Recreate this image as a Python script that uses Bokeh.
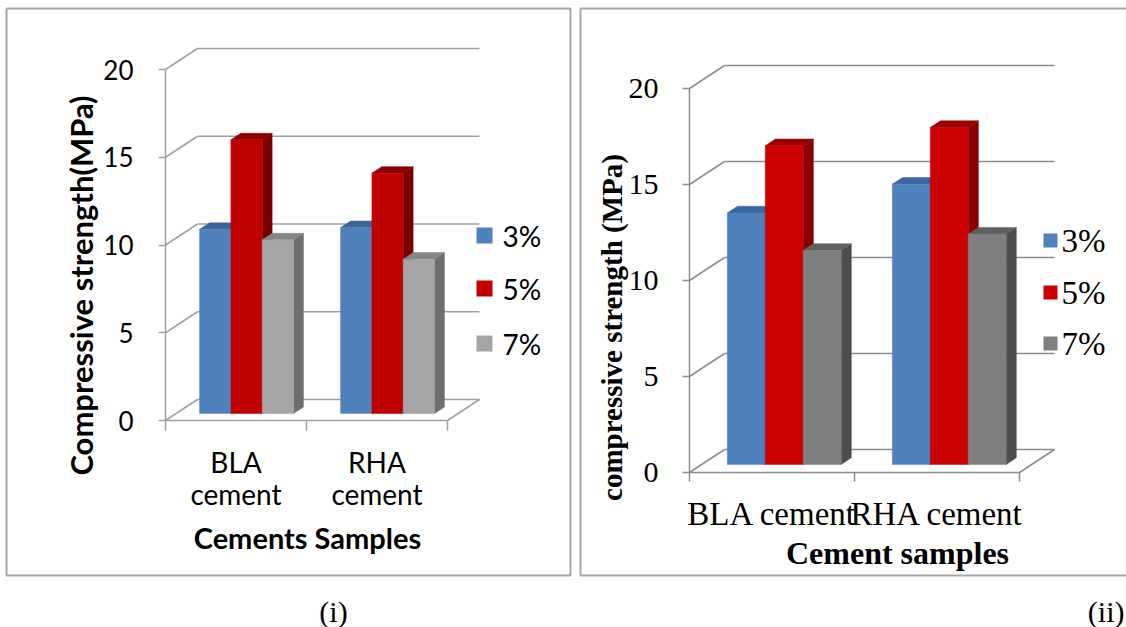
import math
from bokeh.plotting import figure
from bokeh.layouts import row
from bokeh.models import Range1d, FixedTicker
from bokeh.core.properties import value
from bokeh.embed import file_html
from bokeh.resources import INLINE

# ---------------- data ----------------
categories = ["BLA cement", "RHA cement"]
series_names = ["3%", "5%", "7%"]
y_ticks = [0, 5, 10, 15, 20]

# panel (i): compressive strength in MPa per cement sample
strength_i_3 = [10.5, 10.6]
strength_i_5 = [15.6, 13.7]
strength_i_7 = [9.9, 8.8]
cat_labels_i = ["BLA\ncement", "RHA\ncement"]

# panel (ii)
strength_ii_3 = [13.1, 14.6]
strength_ii_5 = [16.6, 17.55]
strength_ii_7 = [11.15, 12.0]
cat_labels_ii = ["BLA cement", "RHA cement"]

H = 627


def make_panel(values, cat_labels, g, st):
    """Excel-style 3-D clustered column chart drawn on a flat Bokeh canvas.

    g  : geometry in figure pixels (front origin, px per category / unit, depth offset)
    st : colours and fonts
    """
    W = g["width"]
    X0, Y0, CW, VU = g["X0"], g["Y0"], g["CW"], g["VU"]
    ddx = g["DX"] / CW          # depth offset in category units
    ddy = g["DY"] / VU          # depth offset in value units

    def dx(px):
        return (px - X0) / CW

    def dy(py):
        return (Y0 - py) / VU

    p = figure(width=W, height=H,
               x_range=Range1d(dx(0), dx(W)), y_range=Range1d(dy(H), dy(0)),
               output_backend="svg", toolbar_location=None,
               min_border=0, min_border_left=0, min_border_right=0,
               min_border_top=0, min_border_bottom=0)
    p.grid.visible = False
    p.outline_line_color = None
    p.background_fill_color = "white"
    p.border_fill_color = "white"

    n = len(cat_labels)
    gc = st["grid"]
    lw = 1.5
    top = y_ticks[-1]

    # panel border
    bl, bt, br, bb = g["border"]
    p.line(x=[dx(bl), dx(br), dx(br), dx(bl), dx(bl)],
           y=[dy(bt), dy(bt), dy(bb), dy(bb), dy(bt)],
           line_color="#a6a6a6", line_width=2)

    # walls: diagonals from the front axis, back gridlines, floor
    p.segment(x0=[0] * len(y_ticks), y0=y_ticks,
              x1=[ddx] * len(y_ticks), y1=[t + ddy for t in y_ticks],
              line_color=gc, line_width=lw)
    p.segment(x0=[ddx] * len(y_ticks), y0=[t + ddy for t in y_ticks],
              x1=[n + ddx] * len(y_ticks), y1=[t + ddy for t in y_ticks],
              line_color=gc, line_width=lw)
    p.segment(x0=[0, 0, n], y0=[0, 0, 0], x1=[0, n, n + ddx], y1=[top, 0, ddy],
              line_color=gc, line_width=lw)

    # bars: right side, top, then front face, left to right
    d1, d2 = g["d1"], g["d2"]
    bw, off = g["bw"], g["off"]
    for c in range(n):
        for s, vals in enumerate(values):
            v = vals[c]
            x0 = c + off + s * bw
            x1 = x0 + bw
            side = ([x1 + d1 * ddx, x1 + d2 * ddx, x1 + d2 * ddx, x1 + d1 * ddx],
                    [d1 * ddy, d2 * ddy, v + d2 * ddy, v + d1 * ddy])
            topf = ([x0 + d1 * ddx, x1 + d1 * ddx, x1 + d2 * ddx, x0 + d2 * ddx],
                    [v + d1 * ddy, v + d1 * ddy, v + d2 * ddy, v + d2 * ddy])
            p.patches(xs=[side[0], topf[0]], ys=[side[1], topf[1]],
                      fill_color=[st["side"][s], st["top"][s]],
                      line_color=[st["side"][s], st["top"][s]], line_width=0.5)
            p.quad(left=[x0 + d1 * ddx], right=[x1 + d1 * ddx],
                   bottom=[d1 * ddy], top=[v + d1 * ddy],
                   fill_color=st["front"][s], line_color=st["front"][s], line_width=0.5)

    # value axis, pinned to the front corner of the floor
    ya = p.yaxis[0]
    ya.fixed_location = 0
    ya.ticker = FixedTicker(ticks=y_ticks, minor_ticks=[])
    ya.axis_line_color = None
    ya.major_tick_line_color = gc
    ya.major_tick_line_width = lw
    ya.major_tick_out = g["ytick_out"]
    ya.major_tick_in = 0
    ya.minor_tick_line_color = None
    ya.major_label_standoff = g["ylab_standoff"]
    ya.major_label_text_font = st["font"]
    ya.major_label_text_font_size = st["tick_size"]
    ya.major_label_text_color = "black"

    # category axis along the front edge of the floor
    xa = p.xaxis[0]
    xa.fixed_location = 0
    xa.ticker = FixedTicker(ticks=[c + 0.5 for c in range(n)],
                            minor_ticks=list(range(n + 1)))
    xa.major_label_overrides = {c + 0.5: lab for c, lab in enumerate(cat_labels)}
    xa.axis_line_color = None
    xa.major_tick_line_color = None
    xa.minor_tick_line_color = gc
    xa.minor_tick_line_width = lw
    xa.minor_tick_out = g["xtick_out"]
    xa.minor_tick_in = 0
    xa.major_label_standoff = g["xlab_standoff"]
    xa.major_label_text_font = st["font"]
    xa.major_label_text_font_size = st["cat_size"]
    xa.major_label_text_line_height = st["cat_line_height"]
    xa.major_label_text_color = "black"

    # legend
    lx, ltx, lys = g["legend"]
    p.rect(x=[dx(lx)] * 3, y=[dy(yy) for yy in lys], width=g["sq"], height=g["sq"],
           width_units="screen", height_units="screen",
           fill_color=st["front"], line_color=None)
    p.text(x=[dx(ltx)] * 3, y=[dy(yy) for yy in lys], text=series_names,
           text_font=value(st["font"]), text_font_size=value(st["legend_size"]),
           text_baseline="middle", text_align="left", text_color="black")

    # axis titles
    yx, yy, ytxt = g["ytitle"]
    p.text(x=[dx(yx)], y=[dy(yy)], text=[ytxt], angle=math.pi / 2,
           text_align="center", text_baseline="middle",
           text_font=value(st["font"]), text_font_style=value("bold"),
           text_font_size=value(st["ytitle_size"]), text_color="black")
    xx, xy, xtxt = g["xtitle"]
    p.text(x=[dx(xx)], y=[dy(xy)], text=[xtxt],
           text_align="center", text_baseline="middle",
           text_font=value(st["font"]), text_font_style=value("bold"),
           text_font_size=value(st["xtitle_size"]), text_color="black")

    # caption under the panel
    cx, cy, ctxt, calign = g["caption"]
    p.text(x=[dx(cx)], y=[dy(cy)], text=[ctxt],
           text_align=calign, text_baseline="middle",
           text_font=value("Liberation Serif"), text_font_size=value("30px"),
           text_color="black")
    return p


geo_i = dict(width=574, X0=165, Y0=420, CW=141, VU=17.55, DX=32, DY=21,
             d1=0.33, d2=0.64, bw=0.222, off=0.167,
             ytick_out=7, ylab_standoff=25, xtick_out=10, xlab_standoff=14,
             legend=(484, 502, [235, 288, 343]), sq=16,
             ytitle=(80, 285, "Compressive strength(MPa)"),
             xtitle=(307, 537, "Cements Samples"),
             caption=(333, 611, "(i)", "center"),
             border=(6, 8, 570, 575))
style_i = dict(front=["#4f81bd", "#c00000", "#a5a5a5"],
               top=["#3c6596", "#8a0000", "#858585"],
               side=["#385d8a", "#7a0000", "#6e6e6e"],
               grid="#a0a0a0", font="Lato",
               tick_size="26px", cat_size="28px", cat_line_height=0.95,
               legend_size="28px", ytitle_size="31px", xtitle_size="29px")

geo_ii = dict(width=552, X0=115, Y0=472, CW=165, VU=19.2, DX=35, DY=23,
              d1=0.35, d2=0.64, bw=0.23, off=0.155,
              ytick_out=7, ylab_standoff=24, xtick_out=9, xlab_standoff=14,
              legend=(476, 487, [240, 292, 343]), sq=14,
              ytitle=(37, 327, "compressive strength (MPa)"),
              xtitle=(323, 552, "Cement samples"),
              caption=(550, 611, "(ii)", "right"),
              border=(6, 8, 570, 575))
style_ii = dict(front=["#4f81bd", "#cc0000", "#7f7f7f"],
                top=["#3a68a0", "#9a0000", "#606060"],
                side=["#3a6190", "#8a0000", "#4d4d4d"],
                grid="#8c8c8c", font="Liberation Serif",
                tick_size="30px", cat_size="33px", cat_line_height=1.2,
                legend_size="33px", ytitle_size="29px", xtitle_size="32px")

p1 = make_panel([strength_i_3, strength_i_5, strength_i_7], cat_labels_i, geo_i, style_i)
p2 = make_panel([strength_ii_3, strength_ii_5, strength_ii_7], cat_labels_ii, geo_ii, style_ii)

layout = row(p1, p2)
open("out.html", "w").write(file_html(layout, INLINE))
